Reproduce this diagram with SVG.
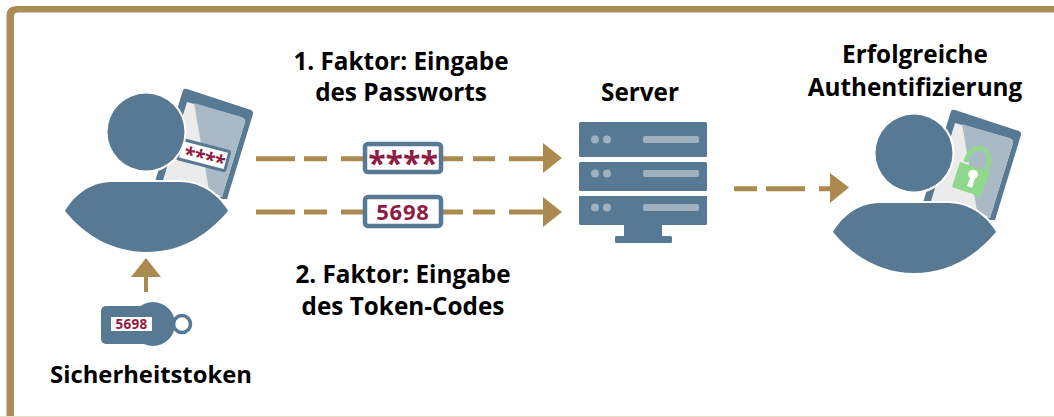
<svg xmlns="http://www.w3.org/2000/svg" xmlns:xlink="http://www.w3.org/1999/xlink" width="1054" height="417" viewBox="0 0 1054 417">
<style>
.t{font-family:"Open Sans","Noto Sans","Liberation Sans",sans-serif;font-weight:700;font-size:24.3px;fill:#000;text-anchor:middle}
.m{font-family:"Open Sans","Noto Sans","Liberation Sans",sans-serif;font-weight:700;fill:#8f1c42;text-anchor:middle}
.b{fill:#587993}
.w{fill:#587993;stroke:#fff;stroke-width:4;paint-order:stroke}
.d{fill:none;stroke:#ab8a4f;stroke-width:5}
.h{fill:#ab8a4f}
.c{fill:#fff;stroke:#587993;stroke-width:4.500}
.s{fill:#9fb1bf}
</style>
<defs>
<g id="tablet">
<path class="b" d="M183 90Q184 88 187 89L251 110Q254 112 253 114L227 199L150 199L157 175Z"/>
<path fill="#ebebeb" d="M187 102L241 117Q246 119 245 122L222 197L160 190Z"/>
<path fill="#a9bac6" d="M194 103L241 117Q246 119 245 122L222 197L209 190Z"/>
</g>
<g id="person">
<circle class="w" cx="146" cy="132" r="38.500"/>
<path class="w" d="M65 211C73 197 89 182 112 182L180 182C203 182 220 197 228 211C205 238 178 252 146 252C114 252 85 236 65 211Z"/>
</g>
</defs>
<rect x="0" y="0" width="1054" height="417" fill="#fff"/>
<path d="M6.500 417V16Q6.500 6 16.500 6H1054V12.500H18Q14 12.500 14 16.500V417Z" fill="#ab8d56"/>
<rect x="0" y="416" width="1054" height="1" fill="#e8dcc4"/>
<g id="connectors">
<path class="d" d="M256 158.700H295M304 158.700H327M341 158.700H363M443 158.700H463M473 158.700H495M509 158.700H545"/>
<path class="h" d="M543 143L562 158L543 173Z"/>
<path class="d" d="M256 212H295M304 212H327M341 212H363M443 212H463M473 212H495M509 212H545"/>
<path class="h" d="M543 197L562 212L543 227Z"/>
<path class="d" d="M734 188.700H757M766 188.700H805M819 188.700H832"/>
<path class="h" d="M830 173L849 187.500L830 203Z"/>
<path class="h" d="M146 258L161 277H148V292H144V277H131Z"/>
</g>
<g id="user">
<use href="#tablet"/>
<g transform="translate(205 155.500) rotate(14.500)">
<rect x="-26" y="-10" width="49" height="20" rx="1.500" fill="#fff" stroke="#587993" stroke-width="3"/>
<text class="m" x="0" y="10" font-size="20" letter-spacing="-0.500">****</text>
</g>
<use href="#person"/>
</g>
<g id="pw-box">
<rect class="c" x="365" y="144" width="76" height="28" rx="3"/>
<text class="m" x="403" y="175" font-size="32">****</text>
</g>
<g id="code-box">
<rect class="c" x="365" y="197" width="76" height="29" rx="3"/>
<text class="m" x="403" y="219.500" font-size="22" letter-spacing="0.800">5698</text>
</g>
<g id="server">
<rect class="b" x="579" y="122" width="128" height="35" rx="1.500"/>
<rect class="b" x="579" y="162" width="128" height="29" rx="1.500"/>
<path class="b" d="M579 196H707V223.500Q707 225 705.500 225H662V236H670.500Q672 236 672 237.500V241.500Q672 243 670.500 243H616.500Q615 243 615 241.500V237.500Q615 236 616.500 236H624V225H580.500Q579 225 579 223.500Z"/>
<g class="s">
<circle cx="595" cy="139.500" r="4"/><circle cx="607" cy="139.500" r="4"/><rect x="643" y="136" width="56" height="7" rx="2"/>
<circle cx="595" cy="173.500" r="4"/><circle cx="607" cy="173.500" r="4"/><rect x="643" y="170" width="56" height="7" rx="2"/>
<circle cx="595" cy="207.500" r="4"/><circle cx="607" cy="207.500" r="4"/><rect x="643" y="204" width="56" height="7" rx="2"/>
</g>
</g>
<g id="success">
<use href="#tablet" transform="translate(768 21)"/>
<path d="M966 162C968 149 980 145 986 151C991 156 989 164 986 170" fill="none" stroke="#8fd88c" stroke-width="4.500"/>
<path fill="#8fd88c" d="M960 162L990 172L981 197L952 187Z"/>
<path fill="#fff" d="M972 170A4.500 4.500 0 0 1 975 178.500L972 188L967 186L970 178A4.500 4.500 0 0 1 972 170Z"/>
<use href="#person" transform="translate(768 21)"/>
</g>
<g id="token">
<circle cx="182" cy="324" r="8.500" fill="none" stroke="#587993" stroke-width="3.500"/>
<circle class="b" cx="153" cy="324" r="22"/>
<rect class="b" x="101" y="306" width="60" height="38" rx="5"/>
<rect x="111" y="317" width="41" height="14" fill="#fff"/>
<text class="m" x="131.500" y="329" font-size="13.500" letter-spacing="0.300">5698</text>
</g>
<g id="labels">
<text class="t" x="401" y="70">1. Faktor: Eingabe</text>
<text class="t" x="401" y="101">des Passworts</text>
<text class="t" x="640" y="101">Server</text>
<text class="t" x="915" y="63">Erfolgreiche</text>
<text class="t" x="915" y="96">Authentifizierung</text>
<text class="t" x="403" y="283">2. Faktor: Eingabe</text>
<text class="t" x="403" y="315">des Token-Codes</text>
<text class="t" x="151" y="383" style="font-size:23.8px">Sicherheitstoken</text>
</g>
</svg>
